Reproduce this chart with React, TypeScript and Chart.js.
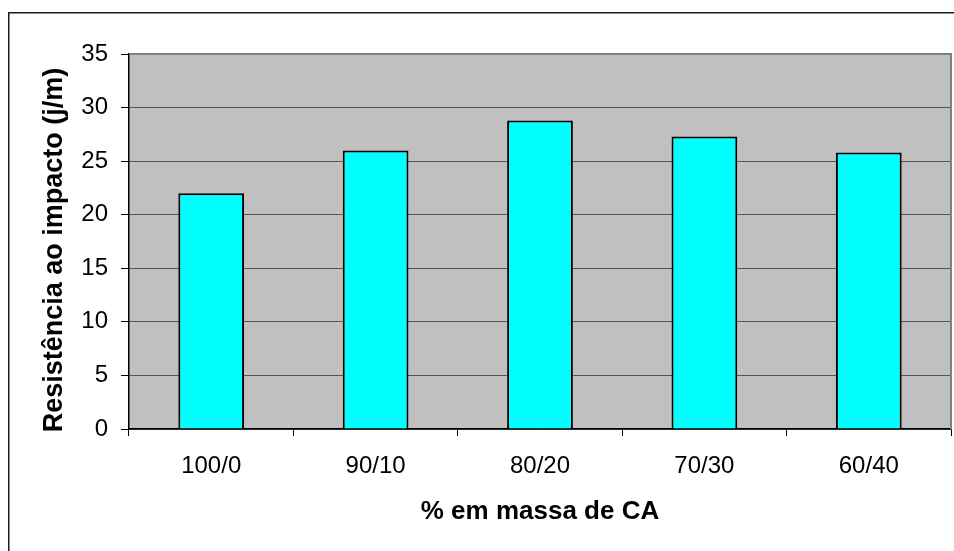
import React, { useEffect, useRef } from 'react';
import { Chart, registerables } from 'chart.js';

Chart.register(...registerables);

const categories = ['100/0', '90/10', '80/20', '70/30', '60/40'];
const values = [22, 26, 28.8, 27.3, 25.8];
const yMin = 0;
const yMax = 35;
const yStep = 5;
const yTitle = 'Resistência ao impacto (j/m)';
const xTitle = '% em massa de CA';

const FONT = "'Liberation Sans', Arial, Helvetica, sans-serif";

const decor = {
  id: 'decor',
  beforeDraw(chart: any) {
    const { ctx, chartArea: a } = chart;
    ctx.save();
    ctx.fillStyle = '#ffffff';
    ctx.fillRect(0, 0, chart.width, chart.height);
    ctx.fillStyle = '#C0C0C0';
    ctx.fillRect(a.left, a.top, a.right - a.left, a.bottom - a.top);
    ctx.restore();
  },
  afterDraw(chart: any) {
    const { ctx, chartArea: a } = chart;
    ctx.save();
    // plot frame top & right (gray)
    ctx.strokeStyle = '#808080';
    ctx.lineWidth = 2;
    ctx.beginPath();
    ctx.moveTo(a.left, a.top);
    ctx.lineTo(a.right, a.top);
    ctx.lineTo(a.right, a.bottom);
    ctx.stroke();
    // outer frame
    ctx.strokeStyle = '#1a1a1a';
    ctx.lineWidth = 1.5;
    ctx.beginPath();
    ctx.moveTo(8.75, chart.height + 2);
    ctx.lineTo(8.75, 12.75);
    ctx.lineTo(chart.width + 2, 12.75);
    ctx.stroke();
    // titles
    ctx.fillStyle = '#000';
    ctx.textAlign = 'center';
    ctx.textBaseline = 'middle';
    ctx.font = `bold 26px ${FONT}`;
    ctx.fillText(xTitle, (a.left + a.right) / 2, 512);
    ctx.font = `bold 27px ${FONT}`;
    ctx.translate(55, 250);
    ctx.rotate(-Math.PI / 2);
    ctx.fillText(yTitle, 0, 0);
    ctx.restore();
  },
};

export default function App() {
  const ref = useRef<HTMLCanvasElement>(null);
  useEffect(() => {
    if (!ref.current) return;
    const chart = new Chart(ref.current, {
      type: 'bar',
      data: {
        labels: categories,
        datasets: [
          {
            data: values,
            backgroundColor: '#00FFFF',
            borderColor: '#000000',
            borderWidth: 2,
            categoryPercentage: 1,
            barPercentage: 0.4,
          },
        ],
      },
      options: {
        responsive: false,
        animation: false,
        devicePixelRatio: 1,
        layout: { padding: { top: 54, right: 3, left: 0, bottom: 0 } },
        plugins: { legend: { display: false }, tooltip: { enabled: false } },
        scales: {
          x: {
            grid: { display: true, drawOnChartArea: false, offset: true, color: '#000', tickLength: 7 },
            border: { color: '#000', width: 1.5 },
            ticks: { color: '#000', font: { family: FONT, size: 24 }, padding: 16, maxRotation: 0 },
            afterFit: (s: any) => { s.height = 122; },
          },
          y: {
            min: yMin,
            max: yMax,
            ticks: { stepSize: yStep, color: '#000', font: { family: FONT, size: 24 }, padding: 13 },
            grid: { color: '#555555', lineWidth: 1, tickLength: 8, tickColor: '#000' },
            border: { color: '#000', width: 1.5 },
            afterFit: (s: any) => { s.width = 129; },
          },
        },
      },
      plugins: [decor],
    });
    return () => chart.destroy();
  }, []);
  return (
    <div style={{ position: 'fixed', left: 0, top: 0, width: 954, height: 551, background: '#fff' }}>
      <canvas ref={ref} width={954} height={551} style={{ display: 'block' }} />
    </div>
  );
}
